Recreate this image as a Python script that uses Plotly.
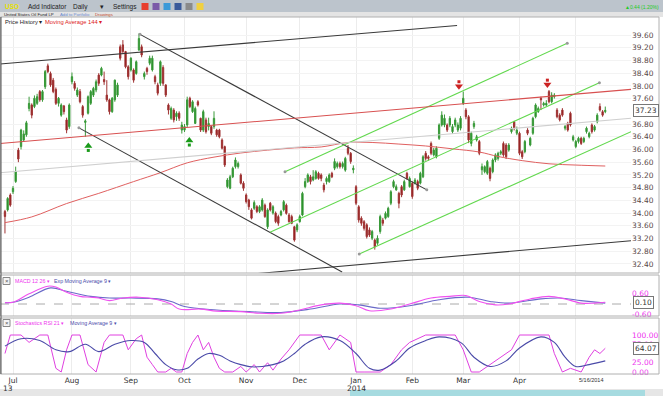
import plotly.graph_objects as go
import pandas as pd

W, H = 663, 396

# ---------------- data ----------------
holidays = ["2013-07-04", "2013-09-02", "2013-11-28", "2013-12-25",
            "2014-01-01", "2014-01-20", "2014-02-17", "2014-04-18"]
dates = [d for d in pd.bdate_range("2013-06-26", "2014-05-16")
         if d.strftime("%Y-%m-%d") not in holidays]
days = list(range(len(dates)))

opens = [34.05, 34.10, 34.57, 34.67, 34.99, 35.98, 36.09, 36.30, 36.46, 37.29,
         37.40, 37.35, 37.45, 37.82, 37.56, 37.97, 38.63, 38.39, 38.18, 37.89,
         37.45, 37.08, 37.37, 36.93, 36.72, 38.13, 38.08, 37.71, 37.82, 37.35,
         36.85, 37.14, 37.45, 37.71, 37.87, 38.34, 38.34, 38.20, 37.71, 37.56,
         37.19, 37.56, 37.71, 39.23, 39.29, 39.08, 38.60, 38.50, 38.50, 38.39,
         39.13, 39.23, 38.29, 38.55, 38.71, 38.50, 38.29, 38.03, 38.08,
         38.58, 38.03, 37.40, 36.98, 37.24, 37.03, 37.14, 36.61, 36.61, 36.77,
         37.61, 37.19, 36.82, 37.50, 36.98, 36.61, 36.93, 36.72, 36.72, 36.72,
         36.61, 36.61, 36.30, 36.09, 34.83, 34.78, 35.14, 35.46, 35.46, 35.20,
         34.94, 34.57, 34.41, 34.10, 34.15, 34.20, 34.05, 34.10, 34.25, 33.57,
         34.31, 34.00, 34.00, 33.89, 33.94, 34.10, 34.25, 33.94, 33.89, 33.57,
         33.47, 33.73, 33.94, 34.83, 34.99, 35.14, 35.04, 35.09, 35.25,
         35.20, 34.88, 34.99, 34.99, 35.25, 35.41, 35.46, 35.56, 35.46, 35.35,
         36.04, 35.88, 35.36, 34.83, 34.20, 33.84, 33.73, 33.63, 33.47, 33.21,
         33.15, 33.05, 33.42, 33.78, 33.84, 33.89, 34.31, 34.83, 34.73, 34.62,
         34.83, 34.73, 35.25, 34.83, 34.94, 34.94, 34.99, 34.94, 35.14, 35.88,
         35.77, 36.19, 35.83, 35.77, 36.35, 36.77, 36.77, 36.77, 36.77, 36.56,
         36.77, 36.61, 36.67, 37.45, 37.24, 37.03, 36.19, 36.72, 36.30, 36.25,
         35.36, 35.30, 35.25, 35.41, 35.30, 35.67, 35.72, 35.88, 36.19, 36.14,
         35.98, 36.56, 36.87, 36.51, 36.51, 35.93, 35.93, 36.61, 36.14, 36.51,
         37.03, 37.19, 37.61, 37.40, 37.40, 37.82, 37.50, 37.66, 37.24, 37.08,
         37.24, 36.67, 36.82, 37.14, 36.30, 36.09, 36.25, 36.35, 36.25, 36.56,
         36.40, 36.77, 36.61, 36.87, 37.35, 37.19, 37.19]
highs = [34.10, 34.50, 34.62, 34.85, 35.46, 36.05, 36.65, 36.60, 36.90, 37.66,
         37.45, 37.70, 37.75, 37.87, 37.87, 38.50, 38.70, 38.45, 38.25, 37.95,
         37.65, 37.45, 37.40, 37.00, 37.45, 38.42, 38.15, 37.95, 37.90, 37.40,
         36.95, 37.70, 37.87, 37.97, 38.20, 38.40, 38.60, 38.45, 38.18, 37.60,
         37.65, 38.20, 38.10, 39.30, 39.44, 39.10, 38.65, 38.90, 38.55, 38.80,
         39.65, 39.30, 38.45, 38.60, 38.95, 38.95, 38.35, 38.10, 38.80,
         38.65, 38.05, 37.45, 37.35, 37.30, 37.20, 37.20, 36.87, 36.80, 37.66,
         37.66, 37.55, 37.35, 37.55, 37.00, 37.25, 37.00, 37.00, 36.75, 37.20,
         36.65, 36.65, 36.35, 36.12, 35.10, 35.20, 35.46, 35.75, 35.62, 35.25,
         35.00, 34.62, 34.45, 34.15, 34.40, 34.25, 34.25, 34.47, 34.30, 34.15,
         34.35, 34.25, 34.05, 33.95, 34.10, 34.41, 34.30, 34.00, 33.95, 33.60,
         33.68, 33.95, 34.67, 35.10, 35.25, 35.20, 35.35, 35.35, 35.30,
         35.25, 34.95, 35.15, 35.25, 35.30, 35.72, 35.62, 35.62, 35.62, 35.77,
         36.14, 35.92, 35.50, 34.88, 34.25, 33.90, 33.78, 33.68, 33.55, 33.47,
         33.20, 33.30, 33.95, 33.85, 34.05, 34.20, 34.72, 35.05, 34.90, 34.67,
         34.88, 35.05, 35.30, 35.15, 35.00, 35.10, 35.05, 35.30, 35.82, 35.95,
         35.82, 36.25, 36.05, 36.10, 36.82, 37.20, 37.10, 36.82, 37.05, 36.80,
         37.00, 36.85, 37.05, 37.82, 37.30, 37.08, 36.56, 36.90, 36.46, 36.30,
         35.56, 35.50, 35.67, 35.46, 35.72, 35.88, 35.93, 35.98, 36.25, 36.20,
         36.20, 36.72, 36.90, 36.72, 36.56, 35.98, 36.30, 36.67, 36.40, 37.03,
         37.45, 37.35, 37.66, 37.50, 37.55, 37.87, 37.80, 37.77, 37.30, 37.14,
         37.30, 36.77, 36.87, 37.19, 36.46, 36.30, 36.40, 36.40, 36.40, 36.72,
         36.56, 36.82, 36.77, 37.14, 37.45, 37.24, 37.35]
lows = [33.36, 34.05, 34.20, 34.60, 34.95, 35.60, 36.00, 36.25, 36.40, 37.20,
        36.98, 37.30, 37.40, 37.50, 37.50, 37.90, 38.40, 37.97, 37.77, 37.40,
        37.35, 37.03, 37.10, 36.51, 36.65, 38.05, 37.85, 37.65, 37.45, 37.00,
        36.40, 37.10, 37.40, 37.65, 37.80, 38.00, 38.30, 38.03, 37.50, 37.10,
        37.15, 37.50, 37.65, 38.80, 39.00, 38.55, 38.20, 38.45, 38.10, 38.35,
        39.10, 38.90, 38.20, 38.35, 38.65, 38.45, 38.05, 37.70, 38.00,
        38.00, 37.65, 37.10, 36.93, 36.85, 36.90, 36.90, 36.50, 36.55, 36.70,
        37.30, 37.15, 36.80, 37.35, 36.55, 36.55, 36.50, 36.60, 36.45, 36.65,
        36.40, 36.35, 36.00, 35.45, 34.78, 34.75, 35.10, 35.40, 35.40, 34.90,
        34.70, 34.30, 34.10, 33.80, 34.10, 34.00, 34.00, 34.05, 33.85, 33.50,
        34.05, 33.95, 33.68, 33.60, 33.90, 34.05, 33.95, 33.70, 33.65, 33.10,
        33.40, 33.70, 33.90, 34.78, 34.95, 34.90, 35.00, 35.05, 35.05,
        35.00, 34.65, 34.90, 34.95, 35.10, 35.35, 35.40, 35.40, 35.40, 35.30,
        35.82, 35.55, 35.25, 34.25, 33.70, 33.60, 33.45, 33.20, 33.25, 33.15,
        32.85, 33.00, 33.35, 33.60, 33.80, 33.85, 34.25, 34.78, 34.70, 34.15,
        34.50, 34.70, 35.05, 34.80, 34.45, 34.90, 34.72, 34.90, 35.10, 35.65,
        35.65, 35.82, 35.78, 35.72, 36.30, 36.72, 36.70, 36.55, 36.70, 36.50,
        36.70, 36.55, 36.60, 37.40, 36.95, 36.20, 36.10, 36.65, 36.25, 35.82,
        35.20, 35.25, 35.20, 35.00, 35.25, 35.60, 35.65, 35.82, 35.77, 35.70,
        35.93, 36.50, 36.60, 36.45, 35.82, 35.70, 35.88, 36.45, 36.10, 36.46,
        36.98, 37.15, 37.24, 37.35, 37.35, 37.45, 37.45, 37.60, 36.98, 36.88,
        37.03, 36.60, 36.56, 36.72, 36.25, 36.04, 36.19, 36.14, 36.20, 36.50,
        36.35, 36.50, 36.56, 36.82, 37.19, 37.03, 37.14]
closes = [33.89, 34.46, 34.25, 34.78, 35.30, 35.70, 36.61, 36.49, 36.84, 37.45,
          37.08, 37.61, 37.66, 37.56, 37.82, 38.45, 38.45, 38.03, 37.82, 37.45,
          37.61, 37.40, 37.19, 36.61, 37.40, 38.29, 37.92, 37.87, 37.50, 37.08,
          36.90, 37.66, 37.82, 37.92, 38.13, 38.08, 38.55, 38.13, 37.56, 37.19,
          37.61, 38.18, 38.03, 38.87, 39.08, 38.60, 38.29, 38.87, 38.18, 38.76,
          39.49, 38.97, 38.39, 38.45, 38.87, 38.87, 38.13, 37.77, 38.76,
          38.08, 37.71, 37.24, 37.29, 36.93, 37.14, 36.98, 36.77, 36.72, 37.56,
          37.35, 37.50, 37.29, 37.40, 36.61, 37.19, 36.56, 36.82, 36.51, 36.98,
          36.46, 36.40, 36.04, 35.51, 35.04, 35.14, 35.41, 35.67, 35.56, 34.94,
          34.78, 34.36, 34.20, 33.84, 34.33, 34.05, 34.20, 34.41, 33.89, 34.10,
          34.10, 34.20, 33.73, 33.68, 34.05, 34.36, 33.99, 33.73, 33.68, 33.15,
          33.63, 33.89, 34.62, 34.99, 35.20, 34.99, 35.14, 35.30, 35.09,
          35.09, 34.73, 35.09, 35.20, 35.14, 35.62, 35.56, 35.46, 35.56, 35.72,
          35.88, 35.62, 35.41, 34.31, 33.78, 33.68, 33.52, 33.26, 33.31, 33.42,
          32.94, 33.21, 33.89, 33.68, 33.99, 34.15, 34.67, 34.99, 34.83, 34.31,
          34.57, 34.99, 35.09, 35.09, 34.52, 35.04, 34.78, 35.25, 35.77, 35.72,
          35.72, 35.88, 35.98, 36.04, 36.77, 37.08, 36.98, 36.61, 36.98, 36.72,
          36.93, 36.77, 36.98, 37.61, 37.03, 36.30, 36.51, 36.82, 36.40, 35.88,
          35.46, 35.46, 35.62, 35.09, 35.67, 35.83, 35.88, 35.93, 35.83, 35.77,
          36.14, 36.67, 36.67, 36.61, 35.88, 35.77, 36.25, 36.51, 36.35, 36.98,
          37.40, 37.29, 37.56, 37.45, 37.45, 37.50, 37.71, 37.71, 37.03, 36.93,
          37.08, 36.72, 36.61, 36.77, 36.40, 36.25, 36.35, 36.19, 36.35, 36.67,
          36.51, 36.56, 36.72, 37.08, 37.24, 37.08, 37.23]

# Moving Average 144 read at sample days
ma144_days = [0, 10, 23, 35, 48, 58, 68, 78, 88, 98, 108, 118, 128, 137, 147,
              157, 167, 177, 184, 193, 203, 213, 224]
ma144_vals = [33.70, 33.88, 34.30, 34.62, 34.99, 35.27, 35.58, 35.76, 35.89,
              35.98, 36.05, 36.08, 36.22, 36.22, 36.17, 36.11, 36.02, 35.92,
              35.78, 35.65, 35.55, 35.51, 35.48]

# MACD(12,26) and its EMA 9, read at sample days
macd_days = [0, 3, 9, 16, 19, 23, 28, 32, 35, 39, 44, 50, 57, 62, 65, 73, 79,
             88, 95, 103, 110, 118, 125, 131, 136, 144, 151, 159, 166, 172, 177,
             183, 188, 196, 203, 209, 215, 220, 224]
macd_vals = [0.08, 0.10, 0.60, 1.05, 1.00, 0.70, 0.45, 0.40, 0.35, 0.20, 0.35,
             0.40, 0.25, 0.00, -0.30, -0.30, -0.42, -0.45, -0.55, -0.55, -0.35,
             -0.05, 0.05, -0.10, -0.40, -0.30, 0.00, 0.35, 0.45, 0.50, 0.15,
             -0.05, 0.00, 0.30, 0.45, 0.30, 0.05, 0.05, 0.10]
signal_days = [0, 3, 9, 17, 23, 32, 39, 47, 57, 62, 67, 79, 91, 103, 114, 125,
               132, 140, 151, 162, 173, 181, 188, 200, 207, 215, 224]
signal_vals = [0.08, 0.10, 0.40, 0.95, 0.75, 0.45, 0.35, 0.35, 0.30, 0.15,
               -0.15, -0.35, -0.45, -0.50, -0.30, 0.00, -0.05, -0.25, -0.10,
               0.25, 0.40, 0.15, 0.05, 0.30, 0.35, 0.20, 0.05]

# Stochastic RSI 21 and its MA 9, read at sample days
stoch_days = [0, 2, 6, 9, 13, 16, 19, 21, 23, 25, 28, 31, 34, 37, 39, 44, 46,
              49, 51, 53, 55, 57, 60, 62, 64, 66, 68, 70, 72, 74, 76, 78, 80,
              82, 85, 88, 90, 93, 95, 98, 100, 103, 106, 110, 115, 118, 121,
              125, 129, 131, 134, 140, 144, 148, 151, 157, 162, 168, 171, 174,
              177, 181, 185, 189, 192, 198, 203, 205, 208, 211, 215, 218, 220,
              222, 224]
stoch_vals = [50, 100, 100, 80, 100, 100, 10, 0, 60, 100, 100, 20, 0, 80, 100,
              100, 60, 90, 100, 40, 20, 0, 0, 10, 0, 0, 50, 80, 100, 60, 80,
              40, 10, 0, 0, 15, 0, 20, 0, 25, 5, 35, 60, 100, 100, 100, 60,
              100, 80, 0, 0, 0, 20, 60, 80, 100, 100, 100, 60, 0, 0, 20, 40,
              60, 100, 100, 100, 50, 0, 10, 0, 40, 60, 50, 64.07]
stoch_ma_days = [0, 6, 13, 19, 24, 30, 35, 41, 47, 52, 56, 60, 64, 68, 72, 76,
                 80, 84, 88, 92, 96, 100, 104, 108, 112, 118, 125, 131, 136,
                 140, 146, 151, 157, 162, 170, 175, 181, 187, 192, 200, 205,
                 209, 213, 218, 224]
stoch_ma_vals = [70, 90, 85, 60, 55, 75, 55, 75, 85, 80, 50, 20, 6, 10, 35,
                 50, 45, 30, 20, 14, 15, 20, 30, 50, 75, 95, 85, 50, 10, 5, 30,
                 65, 85, 95, 80, 40, 15, 30, 65, 95, 80, 40, 15, 20, 30]

# axis tick labels (those hidden behind the last-value boxes are omitted)
price_tick_labels = ["39.60", "39.20", "38.80", "38.40", "38.00", "37.60",
                     "36.80", "36.40", "36.00", "35.60", "35.20",
                     "34.80", "34.40", "34.00", "33.60", "33.20", "32.80", "32.40"]
macd_tick_labels = ["0.60", "-0.60"]
stoch_tick_labels = ["100.00", "75.00", "25.00", "0.00"]
month_labels = ["Jul", "Aug", "Sep", "Oct", "Nov", "Dec", "Jan", "Feb", "Mar", "Apr"]
year_labels = {"Jul": "13", "Jan": "2014"}

# user-drawn lines: (day, price) pairs
trend_lines = {
    "black_top":   ([-1.85, 168.7], [38.69, 39.90], "#3a3a3a", False, False),
    "black_bot":   ([94.4, 233.6], [32.10, 33.13], "#3a3a3a", False, False),
    "desc_upper":  ([50.4, 157.4], [39.62, 34.73], "#3a3a3a", True, True),
    "desc_lower":  ([27.6, 125.8], [36.68, 32.15], "#3a3a3a", True, False),
    "green_upper": ([104.5, 209.8], [35.30, 39.34], "#62d84e", True, True),
    "green_mid":   ([98.9, 221.8], [33.40, 38.10], "#62d84e", False, True),
    "green_low":   ([132.2, 233.6], [32.71, 36.56], "#62d84e", True, False),
    "red_line":    ([-1.85, 233.6], [36.19, 37.89], "#d85050", False, False),
    "grey_line":   ([-1.85, 233.6], [35.27, 36.98], "#cfcfcf", False, False),
}
up_arrows = ([31.1, 68.8], [36.04, 36.21])
down_arrows = ([169.4, 202.4], [38.06, 38.11])
last_close = 37.23
last_macd = 0.10
last_stoch = 64.07

# ---------------- layout helpers ----------------
def xp(px):
    return px / W

def yp(py):
    return 1 - py / H

PLOT_R = 631
X_RANGE = [-1.85, 233.6]
price_top, price_bot = 17, 273
macd_top, macd_bot = 275, 316
st_top, st_bot = 318, 374

def p_of(py):
    return 39.6 - (py - 35) / 31.8

def m_of(py):
    return (304 - py) * 0.059

def s_of(py):
    return (372 - py) / 0.37

month_idx = [i for i in range(len(dates)) if i == 0 or dates[i].month != dates[i - 1].month][1:]
label_idx = month_idx[:len(month_labels)]

fig = go.Figure()

fig.add_trace(go.Candlestick(
    x=days, open=opens, high=highs, low=lows, close=closes,
    increasing=dict(line=dict(color="#3a9a3a", width=1), fillcolor="#1c8a1c"),
    decreasing=dict(line=dict(color="#a03434", width=1), fillcolor="#8a1010"),
    whiskerwidth=0, xaxis="x", yaxis="y", showlegend=False, hoverinfo="skip"))

fig.add_trace(go.Scatter(x=ma144_days, y=ma144_vals, mode="lines",
                         line=dict(color="#e06060", width=1, shape="spline"),
                         xaxis="x", yaxis="y", showlegend=False, hoverinfo="skip"))

for name, (xs, ys, col, dot0, dot1) in trend_lines.items():
    fig.add_trace(go.Scatter(x=xs, y=ys, mode="lines",
                             line=dict(color=col, width=1.1),
                             xaxis="x", yaxis="y", showlegend=False, hoverinfo="skip"))
    dx = [x for x, d in zip(xs, (dot0, dot1)) if d]
    dy = [y for y, d in zip(ys, (dot0, dot1)) if d]
    if dx:
        fig.add_trace(go.Scatter(x=dx, y=dy, mode="markers",
                                 marker=dict(color="#999999", size=3),
                                 xaxis="x", yaxis="y", showlegend=False, hoverinfo="skip"))

fig.add_trace(go.Scatter(x=up_arrows[0], y=[v + 0.07 for v in up_arrows[1]], mode="markers",
                         marker=dict(symbol="triangle-up", size=7, color="#1a9a1a"),
                         xaxis="x", yaxis="y", showlegend=False, hoverinfo="skip"))
fig.add_trace(go.Scatter(x=up_arrows[0], y=[v - 0.07 for v in up_arrows[1]], mode="markers",
                         marker=dict(symbol="square", size=3, color="#1a9a1a"),
                         xaxis="x", yaxis="y", showlegend=False, hoverinfo="skip"))
fig.add_trace(go.Scatter(x=down_arrows[0], y=[v - 0.07 for v in down_arrows[1]], mode="markers",
                         marker=dict(symbol="triangle-down", size=7, color="#cc2222"),
                         xaxis="x", yaxis="y", showlegend=False, hoverinfo="skip"))
fig.add_trace(go.Scatter(x=down_arrows[0], y=[v + 0.07 for v in down_arrows[1]], mode="markers",
                         marker=dict(symbol="square", size=3, color="#cc2222"),
                         xaxis="x", yaxis="y", showlegend=False, hoverinfo="skip"))

# MACD panel
fig.add_trace(go.Scatter(x=[X_RANGE[0], X_RANGE[1]], y=[0, 0], mode="lines",
                         line=dict(color="#aaaaaa", width=1, dash="dash"),
                         xaxis="x2", yaxis="y2", showlegend=False, hoverinfo="skip"))
fig.add_trace(go.Scatter(x=signal_days, y=signal_vals, mode="lines",
                         line=dict(color="#6a6ac8", width=1.1, shape="spline"),
                         xaxis="x2", yaxis="y2", showlegend=False, hoverinfo="skip"))
fig.add_trace(go.Scatter(x=macd_days, y=macd_vals, mode="lines",
                         line=dict(color="#f050f0", width=1.1, shape="spline"),
                         xaxis="x2", yaxis="y2", showlegend=False, hoverinfo="skip"))

# Stoch panel
fig.add_trace(go.Scatter(x=stoch_days, y=stoch_vals, mode="lines",
                         line=dict(color="#e040e0", width=1),
                         xaxis="x3", yaxis="y3", showlegend=False, hoverinfo="skip"))
fig.add_trace(go.Scatter(x=stoch_ma_days, y=stoch_ma_vals, mode="lines",
                         line=dict(color="#4a4aa8", width=1.1, shape="spline"),
                         xaxis="x3", yaxis="y3", showlegend=False, hoverinfo="skip"))

FONT = "DejaVu Sans"
SMALL = "Liberation Sans"
axis_font = dict(family=FONT, size=7.5, color="#5a4848")
xcommon = dict(range=X_RANGE, domain=[0, xp(PLOT_R)], showgrid=True, gridcolor="#ececec",
               gridwidth=1, tickvals=month_idx, zeroline=False, showline=False,
               ticks="", fixedrange=True, automargin=False)

fig.update_layout(
    width=W, height=H, margin=dict(l=0, r=0, t=0, b=0, pad=0, autoexpand=False),
    paper_bgcolor="white", plot_bgcolor="white",
    xaxis=dict(**xcommon, showticklabels=False, anchor="y", rangeslider=dict(visible=False)),
    xaxis2=dict(**xcommon, showticklabels=False, anchor="y2"),
    xaxis3=dict(**xcommon, showticklabels=True, anchor="y3",
                ticktext=month_labels + [""] * (len(month_idx) - len(month_labels)),
                tickfont=dict(family=FONT, size=7.5, color="#333333")),
    yaxis=dict(domain=[yp(price_bot), yp(price_top)], range=[p_of(price_bot), p_of(price_top)],
               side="right", anchor="x", tickvals=[float(t) for t in price_tick_labels],
               ticktext=price_tick_labels, tickfont=axis_font, showgrid=True,
               gridcolor="#f3f3f3", zeroline=False, ticks="", automargin=False, fixedrange=True),
    yaxis2=dict(domain=[yp(macd_bot), yp(macd_top)], range=[m_of(macd_bot), m_of(macd_top)],
                side="right", anchor="x2", tickvals=[float(t) for t in macd_tick_labels],
                ticktext=macd_tick_labels,
                tickfont=dict(family=FONT, size=7.5, color="#ee33ee"),
                showgrid=False, zeroline=False, ticks="", automargin=False, fixedrange=True),
    yaxis3=dict(domain=[yp(st_bot), yp(st_top)], range=[s_of(st_bot), s_of(st_top)],
                side="right", anchor="x3", tickvals=[float(t) for t in stoch_tick_labels],
                ticktext=stoch_tick_labels,
                tickfont=dict(family=FONT, size=7.5, color="#ee33ee"),
                showgrid=False, zeroline=False, ticks="", automargin=False, fixedrange=True),
)

shapes = []
# toolbar & header rows
shapes.append(dict(type="rect", xref="paper", yref="paper", x0=0, x1=1, y0=yp(12), y1=1,
                   fillcolor="#bcc4cc", line=dict(width=0), layer="below"))
shapes.append(dict(type="rect", xref="paper", yref="paper", x0=0, x1=1, y0=yp(17), y1=yp(12),
                   fillcolor="#e4e4e4", line=dict(width=0), layer="below"))
# panel frames
for top, bot in [(price_top, price_bot), (macd_top, macd_bot), (st_top, st_bot)]:
    shapes.append(dict(type="rect", xref="paper", yref="paper", x0=xp(0.5), x1=xp(659),
                       y0=yp(bot), y1=yp(top), line=dict(color="#b0b0b0", width=1),
                       fillcolor="rgba(0,0,0,0)"))
shapes.append(dict(type="line", xref="paper", yref="paper", x0=xp(1), x1=xp(1), y0=yp(st_bot),
                   y1=yp(price_top), line=dict(color="#555555", width=1)))
# bottom strip
shapes.append(dict(type="rect", xref="paper", yref="paper", x0=0, x1=1, y0=0, y1=yp(389),
                   fillcolor="#e6e6e6", line=dict(width=0), layer="below"))
shapes.append(dict(type="rect", xref="paper", yref="paper", x0=xp(350), x1=xp(645), y0=0,
                   y1=yp(390), fillcolor="#a6dbe0", line=dict(width=0)))
# toolbar icons
icon_cols = [("#e84030", 145), ("#7a5aa8", 156), ("#3a9ad8", 167), ("#3a5a9a", 178),
             ("#8a8a8a", 189), ("#f0d040", 200)]
for col, cx in icon_cols:
    shapes.append(dict(type="rect", xref="paper", yref="paper", x0=xp(cx - 3.5), x1=xp(cx + 3.5),
                       y0=yp(10), y1=yp(3), fillcolor=col, line=dict(width=0)))
# indicator close-buttons
for yy in (281, 323):
    shapes.append(dict(type="rect", xref="paper", yref="paper", x0=xp(3), x1=xp(10),
                       y0=yp(yy + 3.5), y1=yp(yy - 3.5), fillcolor="#f4f4f4",
                       line=dict(color="#888888", width=1)))
fig.update_layout(shapes=shapes)

ann = []
def text(px, py, s, size=7, color="#222222", anchor="left", bold=False, family=SMALL):
    ann.append(dict(x=xp(px), y=yp(py), xref="paper", yref="paper",
                    text=("<b>%s</b>" % s) if bold else s,
                    showarrow=False, xanchor=anchor, yanchor="middle",
                    font=dict(family=family, size=size, color=color)))

text(3, 6.5, "USO", 6.5, "#e8e000", bold=True)
text(26, 6.5, "Add Indicator", 6.5, "#222222")
text(71, 6.5, "Daily", 6.5, "#222222")
text(98, 6.5, "▾", 6.5, "#222222")
text(111, 6.5, "Settings", 6.5, "#222222")
text(661, 6.5, "▲0.44 (1.20%)", 5, "#22cc22", anchor="right")
text(2, 14.6, "United States Oil Fund LP", 4.3, "#222222")
text(58, 14.6, "Add to Portfolio", 4.3, "#6a8ad0")
text(93, 14.6, "Drawings", 4.3, "#c04a2a")
text(3, 22.5, "Price History ▾", 5.8, "#222222")
text(43, 22.5, "Moving Average 144 ▾", 5.8, "#dd2222")
text(13, 281, "MACD 12 26 ▾", 5.3, "#ee33ee")
text(52, 281, "Exp Moving Average 9 ▾", 5.3, "#4a4aaa")
text(13, 323, "Stochastics RSI 21 ▾", 5.3, "#ee33ee")
text(68, 323, "Moving Average 9 ▾", 5.3, "#4a4aaa")
for yy in (281, 323):
    text(6.5, yy, "×", 6, "#555555", anchor="center")
text(591, 380, "5/16/2014", 5.5, "#333333", anchor="center")

for lab, yl in year_labels.items():
    i = label_idx[month_labels.index(lab)]
    ann.append(dict(x=i - (2 if lab == "Jul" else 0), y=yp(388), xref="x3", yref="paper",
                    text=yl, showarrow=False, xanchor="center", yanchor="middle",
                    font=dict(family=FONT, size=7.5, color="#333333")))

for val, yref in [(last_close, "y"), (last_macd, "y2"), (last_stoch, "y3")]:
    ann.append(dict(x=xp(PLOT_R + 2), y=val, xref="paper", yref=yref, text="%.2f" % val,
                    showarrow=False, xanchor="left", yanchor="middle",
                    font=dict(family=FONT, size=7.5, color="#333333"),
                    bordercolor="#777777", borderwidth=1, borderpad=1, bgcolor="white"))
fig.update_layout(annotations=ann)

fig.write_html("out.html", config={"displayModeBar": False, "staticPlot": True},
               post_script="document.body.style.margin='0px';"
                           "document.body.style.padding='0px';"
                           "document.body.style.overflow='hidden';")
